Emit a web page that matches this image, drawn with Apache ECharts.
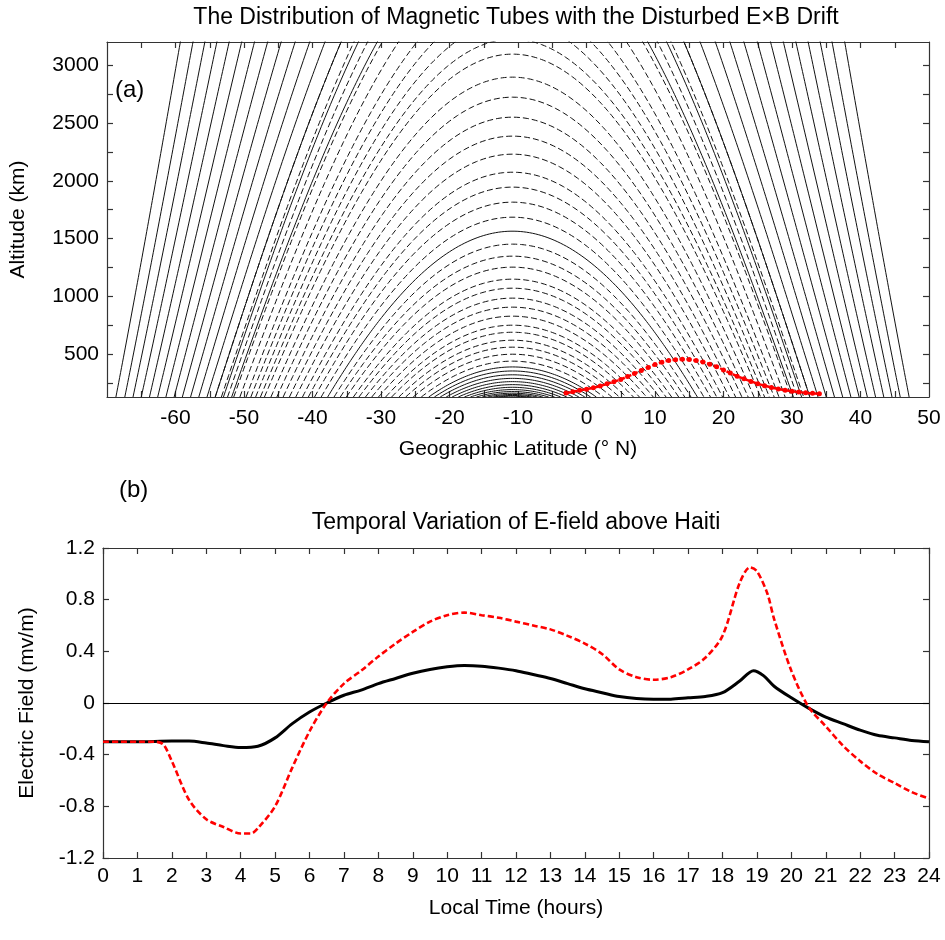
<!DOCTYPE html>
<html><head><meta charset="utf-8">
<script src="https://cdn.jsdelivr.net/npm/echarts@6/dist/echarts.min.js"></script>
<style>html,body{margin:0;padding:0;background:#fff}#c{width:945px;height:940px}</style>
</head><body><div id="c"></div>
<script>
// ---------------- Panel (a) data ----------------
// Field lines whose apex is inside the frame: apex altitude (km)
const solidApexKm = [1564, 390, 355, 322, 291, 263, 237, 214, 194, 177, 163, 152, 143, 137];
const dashedApexKm = [3095, 2896, 2723, 2550, 2386, 2230, 2074, 1945, 1815, 1685,
  1452, 1348, 1253, 1149, 1071, 985, 907, 829, 751, 690, 621, 561, 500, 440];
// Field lines whose apex is above the frame: footpoint magnetic latitude (deg)
const dashedFootLat = [36.8, 37.5, 38.2, 38.9, 39.8, 40.7, 41.6, 42.5, 43.4];
const solidFootLat = [41.0, 42.2, 43.4, 44.6, 45.8, 47.0, 48.2, 49.4, 50.6, 51.8, 53.0, 54.2, 55.4, 56.6, 57.9];
const apexLat = -10.8;        // geographic latitude of the line apexes
const radiusKm = 5400;        // effective radius of the dipole geometry

// Red disturbed E×B drift curve
const redLat = [-3,-2,-1,0,1,2,3,4,5,6,7,8,9,10,11,12,13,14,15,16,17,18,19,20,21,22,23,24,25,26,27,28,29,30,31,32,33,34];
const redAlt = [165,175,188,198,210,225,244,262,282,307,333,360,385,410,430,445,453,456,454,445,432,413,392,364,337,310,287,265,245,228,212,199,189,180,173,166,162,159];

const latTicks = [-60,-50,-40,-30,-20,-10,0,10,20,30,40,50];
const altTicks = [500,1000,1500,2000,2500,3000];

// ---------------- Panel (b) data ----------------
const blackTime = [0,1,2,2.5,3,3.5,4,4.5,5,5.5,6,6.5,7,7.5,8,8.5,9,9.5,10,10.5,11,11.5,12,12.5,13,13.5,14,14.5,15,15.5,16,16.5,17,17.5,18,18.5,18.9,19.2,19.5,20,20.5,21,21.5,22,22.5,23,23.5,24];
const blackField = [-0.30,-0.30,-0.295,-0.295,-0.31,-0.33,-0.345,-0.335,-0.27,-0.16,-0.07,0.0,0.06,0.10,0.15,0.19,0.23,0.26,0.28,0.29,0.285,0.27,0.25,0.22,0.19,0.15,0.11,0.08,0.05,0.035,0.03,0.03,0.04,0.05,0.08,0.17,0.25,0.21,0.13,0.04,-0.04,-0.11,-0.16,-0.21,-0.25,-0.27,-0.29,-0.30];
const redTime = [0,0.5,1,1.5,1.75,2,2.5,3,3.5,4,4.3,4.5,5,5.5,6,6.5,7,7.5,8,8.5,9,9.5,10,10.5,11,11.5,12,12.5,13,13.5,14,14.5,15,15.5,16,16.5,17,17.5,18,18.5,18.8,19,19.3,19.5,20,20.5,21,21.5,22,22.5,23,23.5,24];
const redField = [-0.30,-0.30,-0.30,-0.30,-0.32,-0.45,-0.75,-0.90,-0.96,-1.01,-1.01,-0.97,-0.80,-0.50,-0.22,0.0,0.15,0.25,0.36,0.46,0.55,0.63,0.68,0.70,0.68,0.66,0.63,0.60,0.57,0.52,0.46,0.38,0.26,0.20,0.18,0.20,0.26,0.35,0.52,0.93,1.05,1.02,0.85,0.65,0.25,-0.03,-0.18,-0.33,-0.45,-0.55,-0.62,-0.69,-0.74];
const hourTicks = [0,1,2,3,4,5,6,7,8,9,10,11,12,13,14,15,16,17,18,19,20,21,22,23,24];

// ---------------- build ----------------
const ALT_MIN = 130, ALT_MAX = 3200;
const RAD = Math.PI / 180;
// dipole line: r = K cos^2(theta), altitude = r - radius
function curve(K, th0, th1, n) {
  const pts = [];
  for (let i = 0; i <= n; i++) {
    const th = th0 + (th1 - th0) * i / n;
    pts.push([apexLat + th, K * Math.cos(th * RAD) ** 2 - radiusKm]);
  }
  return pts;
}
function lineFromK(K) {
  const thB = Math.acos(Math.sqrt((radiusKm + ALT_MIN) / K)) / RAD;
  if (K <= radiusKm + ALT_MAX) return curve(K, -thB, thB, 240);
  const thT = Math.max(0, Math.acos(Math.sqrt((radiusKm + ALT_MAX) / K)) / RAD - 1.5);
  return curve(K, -thB, -thT, 80).concat([[null, null]], curve(K, thT, thB, 80));
}
const fromApex = h => lineFromK(radiusKm + h);
const fromFoot = f => lineFromK((radiusKm + ALT_MIN) / Math.cos(f * RAD) ** 2);

const series = [];
const FONT = 'Liberation Sans';
const solidStyle = { color: '#111', width: 1, type: 'solid' };
const dashStyle = { color: '#111', width: 1, type: [6, 3] };
function addLine(data, style) {
  series.push({ type: 'line', xAxisIndex: 0, yAxisIndex: 0, data, showSymbol: false, silent: true,
    connectNulls: false, lineStyle: style, clip: true, z: 2 });
}
solidApexKm.forEach(h => addLine(fromApex(h), solidStyle));
dashedApexKm.forEach(h => addLine(fromApex(h), dashStyle));
dashedFootLat.forEach(f => addLine(fromFoot(f), dashStyle));
solidFootLat.forEach(f => addLine(fromFoot(f), solidStyle));

series.push({
  type: 'line', xAxisIndex: 0, yAxisIndex: 0, data: redLat.map((x, i) => [x, redAlt[i]]),
  showSymbol: true, symbol: 'circle', symbolSize: 5, smooth: true,
  itemStyle: { color: '#ff0000' }, lineStyle: { color: '#ff0000', width: 2.5, type: [5, 2] }, z: 5
});
series.push({
  type: 'line', xAxisIndex: 2, yAxisIndex: 2, data: blackTime.map((x, i) => [x, blackField[i]]),
  showSymbol: false, smooth: 0.3, lineStyle: { color: '#000', width: 3 }, z: 4,
  markLine: { silent: true, symbol: 'none', label: { show: false },
    lineStyle: { color: '#000', width: 1, type: 'solid' }, data: [{ yAxis: 0 }] }
});
series.push({
  type: 'line', xAxisIndex: 2, yAxisIndex: 2, data: redTime.map((x, i) => [x, redField[i]]),
  showSymbol: false, smooth: 0.3, lineStyle: { color: '#ff0000', width: 2.6, type: [6, 3] }, z: 5
});

const axisLineStyle = { color: '#333', width: 1.2 };
const labelStyle = { color: '#000', fontFamily: FONT, fontSize: 21 };
const nameStyle = { color: '#000', fontFamily: FONT, fontSize: 21 };
const aLine = { show: true, onZero: false, lineStyle: axisLineStyle };
const latMinor = [-65,-60,-55,-50,-45,-40,-35,-30,-25,-20,-15,-10,-5,0,5,10,15,20,25,30,35,40,45];
const altMinor = [250,500,750,1000,1250,1500,1750,2000,2250,2500,2750,3000];

const option = {
  animation: false,
  backgroundColor: '#fff',
  grid: [
    { left: 103, top: 42, width: 826, height: 355 },
    { left: 103, top: 548, width: 826, height: 310 }
  ],
  xAxis: [
    { gridIndex: 0, type: 'value', min: -70, max: 50, position: 'bottom',
      axisLine: aLine, splitLine: { show: false },
      axisTick: { inside: true, length: 6, lineStyle: axisLineStyle, customValues: latMinor },
      axisLabel: { ...labelStyle, margin: 11, customValues: latTicks },
      name: 'Geographic Latitude (° N)', nameLocation: 'middle', nameGap: 42, nameTextStyle: nameStyle },
    { gridIndex: 0, type: 'value', min: -70, max: 50, position: 'top',
      axisLine: aLine, splitLine: { show: false },
      axisTick: { inside: true, length: 6, lineStyle: axisLineStyle, customValues: latMinor },
      axisLabel: { show: false } },
    { gridIndex: 1, type: 'value', min: 0, max: 24, interval: 1, position: 'bottom',
      axisLine: aLine, splitLine: { show: false },
      axisTick: { inside: true, length: 6, lineStyle: axisLineStyle },
      axisLabel: { ...labelStyle, margin: 8, customValues: hourTicks },
      name: 'Local Time (hours)', nameLocation: 'middle', nameGap: 40, nameTextStyle: nameStyle },
    { gridIndex: 1, type: 'value', min: 0, max: 24, interval: 1, position: 'top',
      axisLine: aLine, splitLine: { show: false },
      axisTick: { inside: true, length: 6, lineStyle: axisLineStyle },
      axisLabel: { show: false } }
  ],
  yAxis: [
    { gridIndex: 0, type: 'value', min: ALT_MIN, max: ALT_MAX, position: 'left',
      axisLine: aLine, splitLine: { show: false },
      axisTick: { inside: true, length: 6, lineStyle: axisLineStyle, customValues: altMinor },
      axisLabel: { ...labelStyle, margin: 8, customValues: altTicks, formatter: v => String(v) },
      name: 'Altitude (km)', nameLocation: 'middle', nameGap: 78, nameTextStyle: nameStyle },
    { gridIndex: 0, type: 'value', min: ALT_MIN, max: ALT_MAX, position: 'right',
      axisLine: aLine, splitLine: { show: false },
      axisTick: { inside: true, length: 6, lineStyle: axisLineStyle, customValues: altMinor },
      axisLabel: { show: false } },
    { gridIndex: 1, type: 'value', min: -1.2, max: 1.2, interval: 0.4, position: 'left',
      axisLine: aLine, splitLine: { show: false },
      axisTick: { inside: true, length: 6, lineStyle: axisLineStyle },
      axisLabel: { ...labelStyle, margin: 8, formatter: v => String(Math.round(v * 10) / 10) },
      name: 'Electric Field (mv/m)', nameLocation: 'middle', nameGap: 65, nameTextStyle: nameStyle },
    { gridIndex: 1, type: 'value', min: -1.2, max: 1.2, interval: 0.4, position: 'right',
      axisLine: aLine, splitLine: { show: false },
      axisTick: { inside: true, length: 6, lineStyle: axisLineStyle },
      axisLabel: { show: false } }
  ],
  graphic: [
    { type: 'text', x: 516, y: 6, style: { text: 'The Distribution of Magnetic Tubes with the Disturbed E×B Drift', font: '23px "Liberation Sans"', fill: '#000', textAlign: 'center' } },
    { type: 'text', x: 516, y: 511, style: { text: 'Temporal Variation of E-field above Haiti', font: '23px "Liberation Sans"', fill: '#000', textAlign: 'center' } },
    { type: 'text', x: 115, y: 78, style: { text: '(a)', font: '24px "Liberation Sans"', fill: '#000' } },
    { type: 'text', x: 119, y: 478, style: { text: '(b)', font: '24px "Liberation Sans"', fill: '#000' } }
  ],
  series
};
const chart = echarts.init(document.getElementById('c'), null, { renderer: 'canvas' });
chart.setOption(option);
</script>
</body></html>
